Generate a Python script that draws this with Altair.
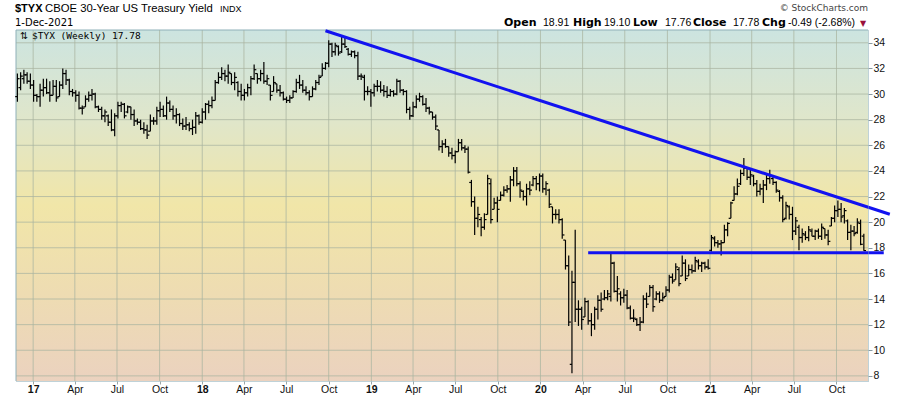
import altair as alt
import pandas as pd

# ---------------- data (weekly bars of $TYX, 10x the 30-year yield) ----------------
first_week = "2016-11-28"

highs = [
    31.6, 31.7, 31.9, 31.7, 31.6, 31.1, 30.0, 30.8, 31.2, 31.2,
    31.0, 31.1, 31.1, 31.0, 32.0, 31.9, 31.2, 30.4, 30.3, 30.2,
    29.1, 29.9, 30.2, 30.4, 30.1, 29.1, 29.0, 28.8, 28.4, 28.8,
    28.5, 29.4, 29.4, 29.3, 29.1, 29.0, 28.8, 28.1, 28.0, 27.8,
    27.6, 28.4, 28.2, 29.0, 29.4, 29.1, 29.8, 29.5, 29.1, 28.9,
    28.5, 28.1, 28.2, 27.8, 28.0, 28.6, 28.4, 28.9, 29.3, 29.5,
    29.8, 31.1, 31.7, 32.1, 31.9, 32.3, 31.6, 31.7, 31.0, 30.8,
    30.4, 30.8, 31.4, 32.3, 31.6, 31.9, 32.5, 31.5, 30.7, 31.4,
    30.8, 30.7, 30.2, 29.8, 29.9, 30.3, 31.2, 31.5, 31.1, 30.6,
    30.3, 30.6, 31.1, 31.5, 32.4, 32.5, 34.2, 34.0, 34.0, 33.8,
    34.5, 34.5, 33.6, 33.4, 33.4, 33.3, 31.6, 31.5, 30.6, 30.4,
    30.8, 31.1, 31.0, 30.7, 30.6, 30.4, 30.3, 31.2, 31.1, 30.4,
    30.3, 29.0, 29.4, 29.9, 30.1, 29.9, 29.7, 29.0, 28.6, 28.4,
    27.2, 26.4, 26.5, 25.9, 25.8, 25.6, 26.5, 26.5, 26.0, 25.9,
    23.3, 22.0, 21.2, 20.4, 20.7, 23.7, 23.4, 21.9, 22.0, 22.4,
    22.8, 22.9, 23.6, 24.3, 24.3, 23.2, 22.5, 23.0, 23.2, 23.6,
    23.6, 23.8, 23.8, 23.2, 22.6, 21.2, 21.0, 21.0, 20.3, 18.6,
    17.4, 16.2, 19.4, 13.9, 13.4, 14.1, 13.9, 12.9, 13.4, 14.3,
    14.5, 14.7, 14.7, 17.6, 16.9, 15.8, 14.6, 14.8, 14.7, 13.5,
    13.2, 12.5, 12.6, 14.3, 14.5, 15.1, 15.1, 14.6, 14.6, 14.5,
    15.0, 15.9, 16.0, 16.8, 16.5, 17.4, 17.1, 16.7, 16.7, 17.3,
    17.1, 16.9, 16.9, 17.1, 19.0, 18.9, 18.6, 18.6, 19.8, 20.0,
    21.6, 22.8, 23.4, 24.1, 25.0, 24.3, 24.2, 23.7, 23.3, 23.0,
    23.3, 23.8, 24.1, 23.6, 23.2, 22.5, 22.1, 21.6, 21.3, 21.2,
    20.4, 19.8, 19.5, 19.3, 19.7, 19.5, 19.4, 19.5, 19.9, 19.5,
    19.4, 20.4, 21.3, 21.7, 21.5, 21.1, 20.2, 19.8, 19.7, 20.3,
    20.2, 19.10,
]

lows = [
    29.4, 30.3, 30.8, 30.8, 30.4, 29.4, 29.4, 29.0, 29.8, 30.0,
    29.4, 29.9, 29.4, 29.8, 30.4, 30.7, 29.9, 29.8, 29.4, 28.8,
    28.4, 29.0, 29.4, 29.5, 28.9, 28.6, 28.0, 27.8, 27.5, 27.1,
    26.7, 28.1, 28.6, 28.1, 28.5, 28.0, 27.5, 27.6, 27.2, 26.9,
    26.5, 27.1, 27.6, 27.6, 28.2, 28.2, 28.0, 28.6, 28.0, 27.7,
    27.5, 27.2, 27.2, 27.1, 26.8, 26.9, 27.6, 27.7, 28.0, 28.5,
    28.9, 29.5, 30.8, 31.1, 31.0, 30.8, 30.7, 30.3, 29.8, 29.5,
    29.5, 29.8, 29.9, 31.1, 30.8, 31.0, 30.8, 30.7, 29.5, 30.2,
    30.1, 29.8, 29.5, 29.3, 29.3, 29.7, 30.1, 30.4, 30.1, 29.9,
    29.5, 29.8, 30.3, 30.7, 31.4, 31.9, 32.1, 32.9, 33.0, 33.0,
    33.2, 33.6, 33.0, 32.9, 32.8, 31.1, 31.1, 29.5, 29.9, 29.0,
    29.8, 30.2, 30.1, 29.8, 29.7, 29.8, 29.8, 29.9, 30.1, 29.9,
    28.5, 28.0, 28.2, 28.9, 29.4, 29.1, 28.6, 28.4, 28.0, 27.2,
    25.6, 25.4, 25.8, 25.1, 24.9, 24.6, 25.5, 25.6, 25.4, 23.8,
    21.2, 19.0, 19.6, 18.9, 19.4, 20.6, 19.9, 21.0, 20.0, 21.7,
    22.0, 22.3, 21.6, 22.8, 22.8, 21.9, 21.7, 21.3, 22.1, 22.8,
    22.5, 22.4, 22.3, 22.1, 21.1, 19.9, 20.2, 19.9, 18.7, 16.3,
    11.9, 8.2, 12.2, 11.9, 11.6, 12.6, 12.0, 11.1, 11.6, 12.4,
    13.0, 13.9, 13.9, 13.8, 14.5, 13.8, 13.5, 13.7, 13.2, 12.4,
    12.2, 11.9, 11.5, 12.1, 13.3, 14.2, 13.0, 13.9, 13.7, 13.8,
    14.2, 14.5, 15.2, 15.5, 15.0, 15.8, 15.4, 15.8, 16.0, 16.1,
    16.3, 16.1, 16.3, 16.3, 17.7, 18.1, 18.0, 17.4, 18.4, 18.9,
    20.3, 21.7, 22.1, 22.9, 23.6, 23.3, 22.9, 22.8, 22.0, 22.1,
    21.5, 22.5, 23.0, 22.9, 22.3, 21.6, 20.0, 20.2, 20.2, 18.6,
    19.0, 17.8, 18.4, 18.6, 18.5, 18.9, 18.6, 18.7, 18.6, 18.7,
    18.2, 19.7, 20.0, 20.4, 20.0, 19.9, 18.6, 17.8, 18.9, 19.1,
    18.2, 17.76,
]

opens = [
    29.8, 30.5, 31.2, 31.5, 31.0, 30.7, 29.9, 29.8, 30.3, 30.5,
    30.1, 29.9, 30.6, 29.8, 30.7, 31.6, 31.1, 30.2, 30.1, 29.9,
    28.9, 29.0, 29.6, 29.9, 30.0, 29.0, 28.8, 28.3, 28.3, 27.8,
    27.2, 28.3, 29.1, 29.2, 28.6, 29.0, 28.4, 27.9, 27.8, 27.3,
    27.2, 27.1, 27.9, 27.9, 28.7, 28.8, 28.3, 29.3, 28.8, 28.3,
    28.4, 27.7, 27.5, 27.6, 27.3, 27.4, 28.3, 27.8, 28.6, 29.2,
    29.1, 29.5, 30.9, 31.3, 31.6, 31.4, 31.6, 30.9, 30.9, 30.2,
    29.9, 30.1, 30.5, 31.2, 31.6, 31.2, 31.6, 31.0, 30.7, 30.2,
    30.8, 30.3, 30.1, 29.6, 29.5, 29.7, 30.2, 30.9, 30.7, 30.3,
    30.1, 29.8, 30.4, 30.9, 31.4, 32.0, 32.4, 33.9, 33.3, 33.7,
    33.3, 33.9, 33.5, 33.1, 33.3, 33.0, 31.4, 31.3, 30.2, 30.2,
    30.1, 30.6, 30.6, 30.3, 30.2, 29.9, 30.2, 30.0, 31.0, 30.3,
    30.2, 28.8, 28.3, 29.0, 29.6, 29.8, 29.2, 28.9, 28.6, 28.2,
    27.2, 25.9, 26.1, 25.9, 25.4, 25.2, 25.5, 26.2, 25.8, 25.7,
    23.1, 21.6, 20.3, 20.2, 19.6, 20.6, 23.0, 21.0, 21.5, 21.7,
    22.1, 22.5, 22.6, 23.3, 24.0, 23.0, 22.4, 22.0, 22.6, 22.9,
    23.4, 23.0, 23.6, 22.6, 22.5, 21.2, 20.6, 20.6, 20.2, 18.6,
    16.6, 8.9, 15.3, 13.2, 13.2, 12.6, 13.8, 12.3, 12.0, 13.2,
    13.9, 14.0, 14.1, 14.2, 16.8, 14.6, 14.4, 14.1, 14.3, 13.3,
    12.5, 12.4, 12.0, 12.2, 14.0, 14.2, 14.9, 14.0, 14.4, 13.9,
    14.2, 14.7, 15.7, 15.5, 16.3, 15.8, 16.8, 15.8, 16.3, 16.2,
    16.9, 16.6, 16.8, 16.5, 17.8, 18.7, 18.4, 18.3, 18.4, 19.4,
    20.3, 21.7, 22.2, 23.0, 23.8, 24.2, 23.5, 23.6, 23.0, 22.4,
    22.6, 22.9, 23.4, 23.4, 23.1, 22.4, 21.9, 20.3, 21.2, 20.6,
    19.3, 19.6, 18.8, 19.0, 18.8, 19.3, 18.9, 19.3, 18.9, 19.5,
    19.0, 19.7, 20.3, 20.9, 21.0, 20.5, 20.1, 19.2, 19.3, 19.2,
    19.9, 18.91,
]

closes = [
    31.2, 31.4, 31.5, 31.0, 30.7, 29.9, 29.8, 30.3, 30.5, 30.1,
    29.9, 30.6, 29.7, 30.7, 31.6, 31.1, 30.2, 30.1, 29.9, 28.9,
    28.9, 29.6, 29.9, 30.0, 29.0, 28.8, 28.3, 28.6, 27.8, 27.2,
    28.3, 29.1, 29.2, 28.3, 29.0, 28.4, 27.9, 27.8, 27.3, 27.2,
    26.8, 27.9, 27.9, 28.7, 28.8, 28.3, 29.3, 28.8, 28.3, 28.4,
    27.7, 27.5, 27.6, 27.3, 27.4, 28.3, 27.8, 28.6, 29.2, 29.1,
    29.5, 30.9, 31.3, 31.6, 31.4, 31.7, 30.9, 31.3, 30.2, 29.9,
    30.1, 30.5, 31.2, 31.9, 31.2, 31.6, 31.0, 31.2, 29.9, 30.9,
    30.3, 30.1, 29.6, 29.5, 29.7, 30.2, 30.9, 30.7, 30.3, 30.1,
    29.8, 30.4, 30.9, 31.3, 32.0, 32.4, 33.9, 33.3, 33.8, 33.2,
    33.9, 33.7, 33.1, 33.3, 33.0, 31.4, 31.4, 30.2, 30.2, 30.1,
    30.6, 30.6, 30.3, 30.2, 29.9, 30.2, 30.0, 31.0, 30.3, 30.2,
    28.8, 28.3, 29.0, 29.6, 29.8, 29.2, 28.9, 28.6, 28.2, 27.5,
    25.9, 26.1, 25.9, 25.4, 25.2, 25.5, 26.2, 25.8, 25.7, 23.9,
    21.6, 20.3, 20.6, 19.6, 20.2, 23.4, 20.2, 21.5, 21.0, 22.1,
    22.5, 22.6, 23.3, 24.0, 23.0, 22.5, 22.0, 22.6, 22.5, 23.4,
    23.0, 23.6, 22.6, 23.0, 21.4, 20.6, 20.6, 20.2, 19.0, 16.6,
    12.2, 15.3, 13.2, 13.2, 12.4, 13.8, 12.3, 12.0, 13.2, 13.9,
    13.2, 14.1, 14.4, 16.8, 14.6, 14.8, 14.1, 14.3, 13.3, 12.5,
    12.5, 12.0, 12.2, 14.0, 13.6, 14.9, 13.4, 14.4, 13.9, 14.1,
    14.7, 15.7, 15.4, 16.5, 15.2, 16.8, 15.6, 16.3, 16.2, 17.0,
    16.6, 16.8, 16.5, 16.4, 18.8, 18.4, 18.3, 18.4, 19.4, 19.9,
    21.5, 22.2, 22.8, 23.8, 24.2, 23.5, 23.7, 23.0, 22.4, 22.6,
    22.9, 23.4, 23.6, 23.1, 22.5, 21.9, 20.2, 21.3, 20.6, 19.3,
    20.1, 18.8, 19.1, 18.8, 19.4, 18.9, 19.3, 18.9, 19.6, 19.0,
    18.5, 20.3, 20.9, 21.0, 20.4, 20.9, 19.2, 19.3, 19.1, 20.0,
    18.27, 17.78,
]

y_ticks = [8, 10, 12, 14, 16, 18, 20, 22, 24, 26, 28, 30, 32, 34]
x_ticks = [
    "2017-01-01", "2017-04-01", "2017-07-01", "2017-10-01",
    "2018-01-01", "2018-04-01", "2018-07-01", "2018-10-01",
    "2019-01-01", "2019-04-01", "2019-07-01", "2019-10-01",
    "2020-01-01", "2020-04-01", "2020-07-01", "2020-10-01",
    "2021-01-01", "2021-04-01", "2021-07-01", "2021-10-01",
]

# trend lines drawn on the chart (two end points each)
resist_dates = ["2018-09-24", "2022-01-24"]
resist_values = [34.94, 20.62]
support_dates = ["2020-04-13", "2022-01-11"]
support_values = [17.62, 17.62]

# ---------------- tables ----------------
dates = pd.date_range(first_week, periods=len(highs), freq="7D").strftime("%Y-%m-%d")
bars = pd.DataFrame({"date": dates, "high": highs, "low": lows,
                     "open": opens, "close": closes})
ygrid = pd.DataFrame({"v": y_ticks})
xgrid = pd.DataFrame({"date": x_ticks})
trend = pd.DataFrame({
    "date": resist_dates + support_dates,
    "value": resist_values + support_values,
    "line": ["resistance", "resistance", "support", "support"],
})
one = pd.DataFrame({"k": [0]})

W, H = 852, 351

def dt(s):
    y, m, d = (int(p) for p in s.split("-"))
    return alt.DateTime(year=y, month=m, date=d, utc=True)

xscale = alt.Scale(type="utc", domain=[dt("2016-11-25"), dt("2021-12-08")])
yscale = alt.Scale(domain=[7.6, 35.0], nice=False, zero=False)

is_jan = "utcFormat(datum.value, '%m') == '01'"
xaxis = alt.Axis(
    orient="bottom", values=[dt(s) for s in x_ticks], grid=False, title=None,
    labelExpr=f"{is_jan} ? utcFormat(datum.value, '%y') : utcFormat(datum.value, '%b')",
    labelFontWeight={"condition": {"test": is_jan, "value": "bold"}, "value": "normal"},
    labelFont="Liberation Sans", labelFontSize=10.5, labelColor="#111111",
    labelPadding=0, labelFlush=False, labelOverlap=False,
    tickSize=3, tickColor="#9aa6a8", tickWidth=1,
    domainColor="#7fa5b0", domainDash=[1, 1], domainWidth=1, zindex=1,
)
yaxis = alt.Axis(
    orient="right", values=y_ticks, grid=False, title=None,
    labelFont="Liberation Sans", labelFontSize=10.5, labelColor="#111111",
    labelPadding=1, labelFlush=False, labelOverlap=False,
    tickSize=4, tickColor="#8a9aa0", tickWidth=1,
    domainColor="#7fa5b0", domainDash=[1, 1], domainWidth=1, zindex=1,
)

X = lambda f: alt.X(f, scale=xscale, axis=xaxis, title=None)
Y = lambda f: alt.Y(f, scale=yscale, axis=yaxis, title=None)

gradient = alt.LinearGradient(
    gradient="linear",
    stops=[
        alt.GradientStop(color="#cce4e0", offset=0.0),
        alt.GradientStop(color="#dfe6cb", offset=0.25),
        alt.GradientStop(color="#f1e6a8", offset=0.5),
        alt.GradientStop(color="#eedcb2", offset=0.75),
        alt.GradientStop(color="#ebd2bf", offset=1.0),
    ],
    x1=0, x2=0, y1=0, y2=1,
)

bg = alt.Chart(one).mark_rect(color=gradient).encode(
    x=alt.value(0), x2=alt.value(W), y=alt.value(0), y2=alt.value(H))

hgrid = alt.Chart(ygrid).mark_rule(color="#aab4a0", strokeWidth=1, opacity=0.75).encode(
    y=Y("v:Q"))
vgrid = alt.Chart(xgrid).mark_rule(color="#aab4a0", strokeWidth=1, opacity=0.75).encode(
    x=X("date:T"))

border_left = alt.Chart(one).mark_rule(color="#8fb0b8", strokeWidth=1).encode(
    x=alt.value(0), y=alt.value(0), y2=alt.value(H))
border_top = alt.Chart(one).mark_rule(color="#8fb0b8", strokeWidth=1).encode(
    x=alt.value(0), x2=alt.value(W), y=alt.value(0))

base = alt.Chart(bars)
hl = base.mark_rule(color="#000000", strokeWidth=1.2).encode(
    x=X("date:T"), y=Y("low:Q"), y2="high:Q")
op = base.mark_rule(color="#000000", strokeWidth=1.2, xOffset=-2.2).encode(
    x=X("date:T"), x2="date:T", y=Y("open:Q"))
cl = base.mark_rule(color="#000000", strokeWidth=1.2, x2Offset=2.2).encode(
    x=X("date:T"), x2="date:T", y=Y("close:Q"))

lines = alt.Chart(trend).mark_line(color="#1212f0", strokeWidth=3).encode(
    x=X("date:T"), y=Y("value:Q"), detail="line:N")

def txt(s, x, y, size, weight="normal", color="#000000",
        font="Liberation Sans", align="left"):
    return alt.Chart(one).mark_text(
        text=s, font=font, fontSize=size, fontWeight=weight, color=color,
        align=align, baseline="alphabetic",
    ).encode(x=alt.value(x), y=alt.value(y))

texts = [
    txt("$TYX", -1, -18.5, 11, "bold"),
    txt("CBOE 30-Year US Treasury Yield", 29, -18.5, 11.3),
    txt("INDX", 204, -18.5, 9),
    txt("1-Dec-2021", -1, -4, 10, font="DejaVu Sans"),
    txt("\u00a9 StockCharts.com", 852, -19.5, 9, color="#444444",
        font="DejaVu Sans", align="right"),
    txt("Open", 488, -4, 11, "bold", font="DejaVu Sans"),
    txt("18.91", 527, -4, 10.5),
    txt("High", 557, -4, 11, "bold", font="DejaVu Sans"),
    txt("19.10", 588, -4, 10.5),
    txt("Low", 617, -4, 11, "bold", font="DejaVu Sans"),
    txt("17.76", 649, -4, 10.5),
    txt("Close", 677, -4, 11, "bold", font="DejaVu Sans"),
    txt("17.78", 717, -4, 10.5),
    txt("Chg", 746, -4, 11, "bold", font="DejaVu Sans"),
    txt("-0.49 (-2.68%)", 772, -4, 10.5),
    txt("\u25bc", 844, -4.5, 8, color="#99113a", font="DejaVu Sans"),
    txt("\u21c5", 4, 8.5, 9.5, font="DejaVu Sans"),
    txt("$TYX (Weekly) 17.78", 16, 8.5, 9.5, font="DejaVu Sans Mono"),
]

chart = alt.layer(bg, hgrid, vgrid, border_left, border_top, hl, op, cl, lines, *texts).properties(
    width=W, height=H,
    padding={"left": 16, "top": 30, "right": 32, "bottom": 15},
    autosize=alt.AutoSizeParams(type="none"),
    background="#ffffff",
).configure_view(strokeWidth=0)

chart.save("out.html", embed_options={"renderer": "svg", "actions": False})
